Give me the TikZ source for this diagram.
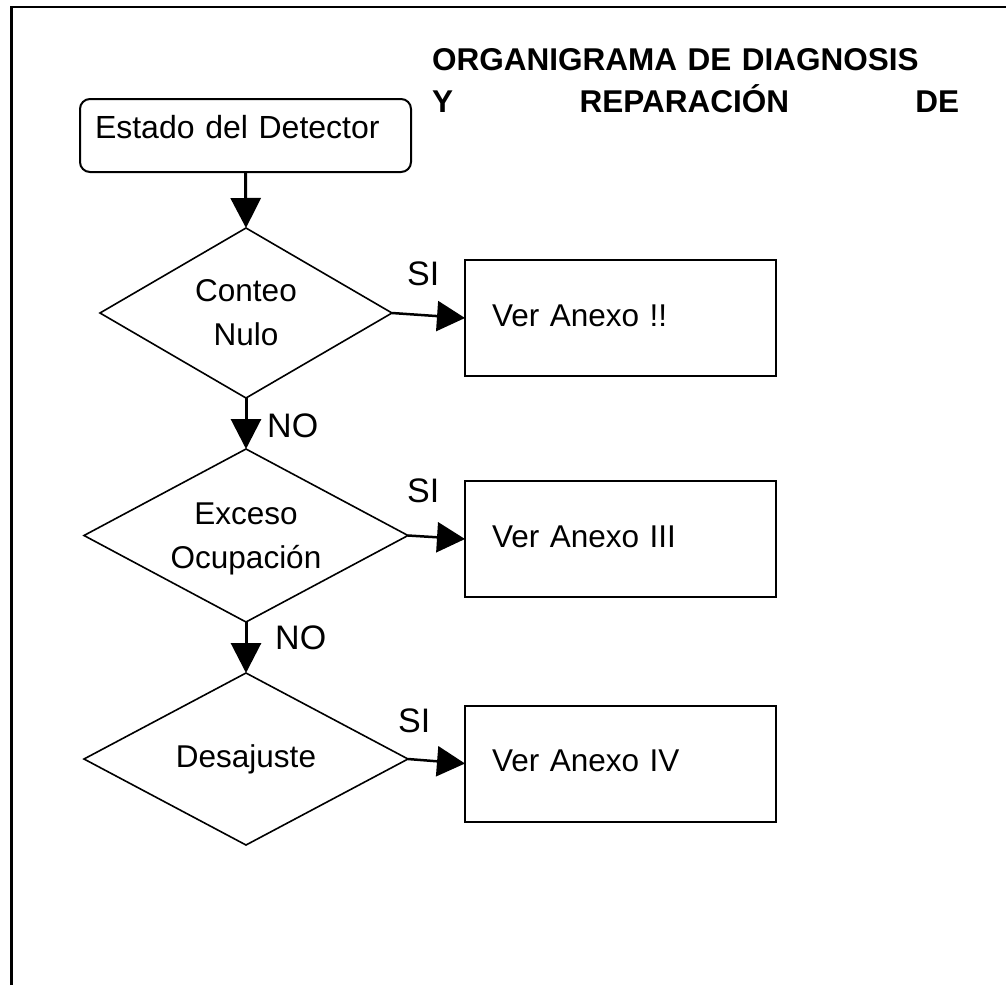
\documentclass[tikz,border=0pt]{standalone}
\usepackage{fontspec}
\setmainfont{Liberation Sans}
\usetikzlibrary{shapes.geometric,arrows.meta}
\begin{document}
\begin{tikzpicture}[x=1pt,y=-1pt,
  body/.style={font=\fontsize{31.5}{44}\selectfont},
  dec/.style={draw, line width=1.6pt, shape=diamond, inner sep=0pt, outer sep=0pt, align=center, body},
  vbox/.style={draw, line width=2pt, rectangle, minimum width=311pt, minimum height=116pt,
    inner xsep=27pt, inner ysep=0pt, outer sep=0pt, text width=257pt, align=left,
    text height=23pt, text depth=7pt, body},
  lbl/.style={font=\fontsize{34}{40}\selectfont, inner sep=0pt, anchor=base west},
  arr/.style={line width=3pt, -{Triangle[length=30pt,width=30pt]}},
  sarr/.style={line width=2.5pt, -{Triangle[length=28pt,width=30pt]}},
  frame/.style={line width=2.5pt}
]
\useasboundingbox (0,0) rectangle (1006,985);
\draw[frame] (11.5,985) -- (11.5,7) -- (1006,7);

\node[anchor=north west, inner sep=0pt, text width=527pt, align=left,
  font=\bfseries\fontsize{31.5}{42}\selectfont] (title) at (432,48)
  {ORGANIGRAMA DE DIAGNOSIS\\Y\hspace{\fill}REPARACIÓN\hspace{\fill}DE};

\node[draw, line width=2pt, rounded corners=10pt, minimum width=331pt, minimum height=73pt,
  inner xsep=15pt, inner ysep=0pt, outer sep=0pt, text width=301pt, align=left,
  text height=23pt, text depth=18pt, font=\fontsize{32}{38}\selectfont]
  (start) at (245.5,135.5) {Estado del Detector};

\node[dec, minimum width=292pt, minimum height=170pt, shape aspect=1.72] (d1) at (246,313) {Conteo\\Nulo};
\node[dec, minimum width=324pt, minimum height=173pt, shape aspect=1.87, text depth=0pt] (d2) at (246,535.5) {Exceso\\Ocupación};
\node[dec, minimum width=324pt, minimum height=172pt, shape aspect=1.88] (d3) at (246,759) {Desajuste};

\node[vbox] (b1) at (620.5,318) {Ver Anexo !!};
\node[vbox] (b2) at (620.5,539) {Ver Anexo III};
\node[vbox] (b3) at (620.5,763.5) {Ver Anexo IV};

\draw[arr] (start.south) -- (d1.north);
\draw[arr] (d1.south) -- (d2.north);
\draw[arr] (d2.south) -- (d3.north);
\draw[sarr] (d1.east) -- (b1.west);
\draw[sarr] (d2.east) -- (b2.west);
\draw[sarr] (d3.east) -- (b3.west);

\node[lbl] (si1) at (407,285) {SI};
\node[lbl] (si2) at (407,502) {SI};
\node[lbl] (si3) at (398,732) {SI};
\node[lbl] (no1) at (267,437) {NO};
\node[lbl] (no2) at (275,649) {NO};
\end{tikzpicture}
\end{document}
